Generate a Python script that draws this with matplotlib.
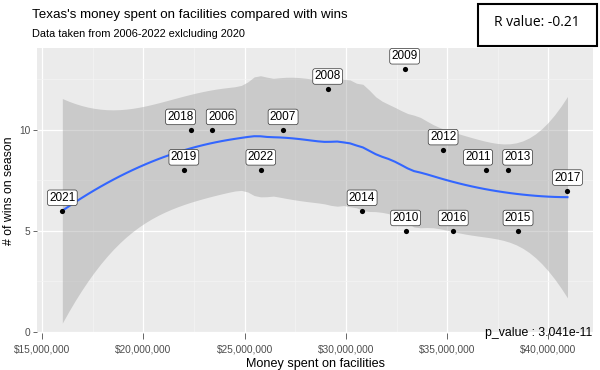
import math
import numpy as np
import matplotlib
matplotlib.use("Agg")
import matplotlib.pyplot as plt
from matplotlib.ticker import FuncFormatter, MultipleLocator

# ---- data ----
years = ["2021", "2019", "2018", "2006", "2022", "2007", "2008", "2009",
         "2014", "2010", "2012", "2016", "2011", "2013", "2015", "2017"]
money = [16.0e6, 22.0e6, 22.35e6, 23.4e6, 25.8e6, 26.9e6, 29.1e6, 32.9e6,
         30.8e6, 32.95e6, 34.8e6, 35.3e6, 36.9e6, 38.0e6, 38.5e6, 40.94e6]
wins = [6, 8, 10, 10, 8, 10, 12, 13, 6, 5, 9, 5, 8, 8, 5, 7]
x_ticks = [15e6, 20e6, 25e6, 30e6, 35e6, 40e6]
y_ticks = [0, 5, 10]
r_text = "R value: -0.21"
p_text = "p_value : 3.041e-11"

# horizontal label shifts (points) that keep neighbouring labels apart (layout only)
label_shift = {"2018": -7.5, "2006": 6.5, "2011": -5.5, "2013": 7.0}

x = np.asarray(money) / 1e6
y = np.asarray(wins, dtype=float)


# ---- loess (degree 2, span 0.75) as in ggplot's geom_smooth ----
def loess_row(x, x0, span=0.75):
    n = len(x)
    q = int(math.floor(n * span))
    d = np.abs(x - x0)
    h = np.sort(d)[q - 1]
    u = np.clip(d / h, 0, 1)
    w = (1 - u ** 3) ** 3
    X = np.column_stack([np.ones(n), x - x0, (x - x0) ** 2])
    XtW = X.T * w
    A = XtW @ X
    return np.linalg.solve(A, XtW)[0]


def t_quantile(p, df):
    c = math.exp(math.lgamma((df + 1) / 2) - math.lgamma(df / 2)) / math.sqrt(df * math.pi)

    def cdf(t):
        s = np.linspace(0, t, 2001)
        f = c * (1 + s ** 2 / df) ** (-(df + 1) / 2)
        return 0.5 + np.trapezoid(f, s)

    lo, hi = 0.0, 50.0
    for _ in range(80):
        mid = (lo + hi) / 2
        if cdf(mid) < p:
            lo = mid
        else:
            hi = mid
    return (lo + hi) / 2


Lmat = np.array([loess_row(x, xi) for xi in x])
fitted = Lmat @ y
res = y - fitted
IL = np.eye(len(x)) - Lmat
M = IL.T @ IL
d1 = np.trace(M)
d2 = np.trace(M @ M)
sigma = math.sqrt(np.sum(res ** 2) / d1)
tq = t_quantile(0.975, d1 ** 2 / d2)

xs = np.linspace(x.min(), x.max(), 80)
rows = np.array([loess_row(x, xi) for xi in xs])
ys = rows @ y
se = sigma * np.sqrt(np.sum(rows ** 2, axis=1))
lo_b = ys - tq * se
hi_b = ys + tq * se

# ---- figure ----
fig = plt.figure(figsize=(6.0, 3.7), dpi=100)
ax = fig.add_axes([37 / 600, 1 - 333 / 370, (593 - 37) / 600, (333 - 48) / 370])
ax.set_facecolor("#EBEBEB")
for s in ax.spines.values():
    s.set_visible(False)

ax.fill_between(xs * 1e6, lo_b, hi_b, color="#999999", alpha=0.4, lw=0, zorder=2)
ax.plot(xs * 1e6, ys, color="#3366FF", lw=1.5, zorder=3)
ax.scatter(money, wins, s=14, color="black", zorder=4, lw=0)
for yr, mx, wy in zip(years, money, wins):
    ax.annotate(yr, (mx, wy), xytext=(label_shift.get(yr, 0), 5), textcoords="offset points",
                ha="center", va="bottom", fontsize=8.5, family="Liberation Sans",
                zorder=5,
                bbox=dict(boxstyle="round,pad=0.15,rounding_size=0.2",
                          fc="white", ec="#333333", lw=0.5))

ax.set_xlim(14.75e6, 42.2e6)
ax.set_ylim(-0.05, 14.05)
ax.set_xticks(x_ticks)
ax.set_yticks(y_ticks)
ax.xaxis.set_minor_locator(MultipleLocator(2.5e6))
ax.yaxis.set_minor_locator(MultipleLocator(2.5))
ax.xaxis.set_major_formatter(FuncFormatter(lambda v, p: "${:,.0f}".format(v)))
ax.grid(True, which="major", color="white", lw=0.9, zorder=0)
ax.grid(True, which="minor", color="#F4F4F4", lw=0.5, zorder=0)
ax.set_axisbelow(True)
ax.tick_params(axis="both", which="major", length=3, width=0.6, color="#4D4D4D",
               labelcolor="#4D4D4D", labelsize=7.3, pad=2)
ax.tick_params(axis="x", which="major", length=4, pad=4.5)
ax.tick_params(which="minor", length=0)
for lab in ax.get_xticklabels() + ax.get_yticklabels():
    lab.set_family("Liberation Sans")

ax.set_xlabel("Money spent on facilities", fontsize=9.1, family="Liberation Sans", labelpad=2.5)
ax.set_ylabel("# of wins on season", fontsize=8.8, family="Liberation Sans", labelpad=3)

fig.text(32 / 600, 1 - 15 / 370, "Texas's money spent on facilities compared with wins",
         fontsize=9.6, family="Liberation Sans", va="center", ha="left")
fig.text(32 / 600, 1 - 34 / 370, "Data taken from 2006-2022 exlcluding 2020",
         fontsize=7.9, family="Liberation Sans", va="center", ha="left")
fig.text(592 / 600, 1 - 333 / 370, p_text, fontsize=8.8, family="Liberation Sans",
         va="center", ha="right")

# R value box
box = plt.Rectangle((478 / 600, 1 - 46 / 370), (597 - 478) / 600, 42 / 370,
                    transform=fig.transFigure, fc="white", ec="black", lw=1.5)
fig.add_artist(box)
fig.text(537 / 600, 1 - 23 / 370, r_text, fontsize=10, family="Open Sans",
         va="center", ha="center")

fig.savefig("out.png", dpi=100)
